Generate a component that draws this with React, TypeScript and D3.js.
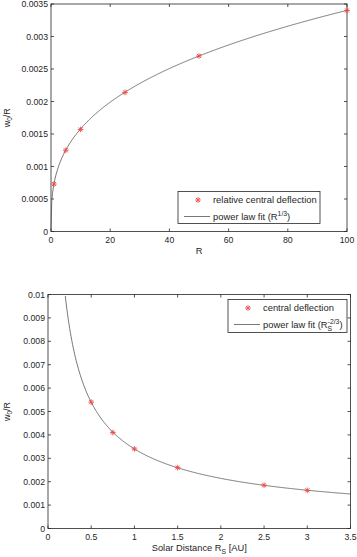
import React from "react";
import * as d3 from "d3";

const rValues = [1, 5, 10, 25, 50, 100];
const deflection1 = [0.00073, 0.00125, 0.00157, 0.00214, 0.0027, 0.0034];
const fit1Coef = 0.000733;
const fit1Exp = 1 / 3;
const xTicks1 = [0, 20, 40, 60, 80, 100];
const yTicks1 = [0, 0.0005, 0.001, 0.0015, 0.002, 0.0025, 0.003, 0.0035];

const rsValues = [0.5, 0.75, 1, 1.5, 2.5, 3];
const deflection2 = [0.0054, 0.0041, 0.0034, 0.0026, 0.00185, 0.00163];
const fit2Coef = 0.0034;
const fit2Exp = -2 / 3;
const xTicks2 = [0, 0.5, 1, 1.5, 2, 2.5, 3, 3.5];
const yTicks2 = [0, 0.001, 0.002, 0.003, 0.004, 0.005, 0.006, 0.007, 0.008, 0.009, 0.01];

const FONT = "'Liberation Sans', Arial, sans-serif";
const TXT = "#262626";
const AX = "#262626";

function Star({ x, y }: { x: number; y: number }) {
  const s = 2.8;
  const d = s * 0.72;
  return (
    <g stroke="#f03c3c" strokeWidth={1} opacity={0.85}>
      <line x1={x - s} y1={y} x2={x + s} y2={y} />
      <line x1={x} y1={y - s} x2={x} y2={y + s} />
      <line x1={x - d} y1={y - d} x2={x + d} y2={y + d} />
      <line x1={x - d} y1={y + d} x2={x + d} y2={y - d} />
    </g>
  );
}

function Panel(props: {
  left: number; right: number; top: number; bottom: number;
  xDomain: [number, number]; yDomain: [number, number];
  xTicks: number[]; yTicks: number[];
  xs: number[]; ys: number[];
  fitCoef: number; fitExp: number; fitStart: number;
  xLabel: React.ReactNode; xLabelY: number;
  legend: { x: number; y: number; w: number; h: number; label1: string; label2: React.ReactNode };
  yFmt: (v: number) => string; xFmt: (v: number) => string;
}) {
  const p = props;
  const x = d3.scaleLinear().domain(p.xDomain).range([p.left, p.right]);
  const y = d3.scaleLinear().domain(p.yDomain).range([p.bottom, p.top]);
  const n = 400;
  const pts: [number, number][] = [];
  for (let i = 0; i <= n; i++) {
    const xv = p.fitStart + (p.xDomain[1] - p.fitStart) * (i / n);
    const yv = p.fitCoef * Math.pow(xv, p.fitExp);
    pts.push([xv, yv]);
  }
  const clipped = pts.filter((d) => d[1] <= p.yDomain[1] + 1e-12);
  const line = d3.line<[number, number]>().x((d) => x(d[0])).y((d) => y(d[1]));
  const tl = 3;
  const lg = p.legend;
  const midY = (p.top + p.bottom) / 2;
  return (
    <g>
      <rect x={p.left} y={p.top} width={p.right - p.left} height={p.bottom - p.top} fill="white" stroke={AX} strokeWidth={0.8} />
      {p.xTicks.map((t) => (
        <g key={"xt" + t}>
          <line x1={x(t)} x2={x(t)} y1={p.bottom} y2={p.bottom - tl} stroke={AX} strokeWidth={0.8} />
          <line x1={x(t)} x2={x(t)} y1={p.top} y2={p.top + tl} stroke={AX} strokeWidth={0.8} />
          <text x={x(t)} y={p.bottom + 11.5} textAnchor="middle" fontSize={8.7} fill={TXT} fontFamily={FONT}>{p.xFmt(t)}</text>
        </g>
      ))}
      {p.yTicks.map((t) => (
        <g key={"yt" + t}>
          <line x1={p.left} x2={p.left + tl} y1={y(t)} y2={y(t)} stroke={AX} strokeWidth={0.8} />
          <line x1={p.right} x2={p.right - tl} y1={y(t)} y2={y(t)} stroke={AX} strokeWidth={0.8} />
          <text x={p.left - 3} y={y(t) + 3} textAnchor="end" fontSize={8.7} fill={TXT} fontFamily={FONT}>{p.yFmt(t)}</text>
        </g>
      ))}
      <path d={line(clipped) || ""} fill="none" stroke="#555" strokeWidth={0.8} />
      {p.xs.map((xv, i) => <Star key={i} x={x(xv)} y={y(p.ys[i])} />)}
      <text transform={`translate(10,${midY}) rotate(-90)`} textAnchor="middle" fontSize={9} fill={TXT} fontFamily={FONT}>
        w<tspan dy={2} fontSize={6.5}>0</tspan><tspan dy={-2}>/R</tspan>
      </text>
      <text x={(p.left + p.right) / 2} y={p.xLabelY} textAnchor="middle" fontSize={9.3} fill={TXT} fontFamily={FONT}>{p.xLabel}</text>
      <rect x={lg.x} y={lg.y} width={lg.w} height={lg.h} fill="white" stroke={AX} strokeWidth={0.8} />
      <Star x={lg.x + 20} y={lg.y + 8.5} />
      <text x={lg.x + 35} y={lg.y + 11.5} fontSize={9.4} fill={TXT} fontFamily={FONT}>{p.legend.label1}</text>
      <line x1={lg.x + 6} x2={lg.x + 32} y1={lg.y + 25} y2={lg.y + 25} stroke="#555" strokeWidth={0.8} />
      <text x={lg.x + 35} y={lg.y + 28} fontSize={9.4} fill={TXT} fontFamily={FONT}>{p.legend.label2}</text>
    </g>
  );
}

export default function App() {
  const fmtY = (v: number) => (v === 0 ? "0" : String(+v.toFixed(4)));
  const fmtX = (v: number) => String(v);
  return (
    <svg width={357} height={557} style={{ position: "absolute", left: 0, top: 0, background: "white" }}>
      <Panel
        left={51} right={347} top={4} bottom={231.5}
        xDomain={[0, 100]} yDomain={[0, 0.0035]}
        xTicks={xTicks1} yTicks={yTicks1}
        xs={rValues} ys={deflection1}
        fitCoef={fit1Coef} fitExp={fit1Exp} fitStart={0}
        xLabel="R" xLabelY={254}
        legend={{ x: 178, y: 191.5, w: 142, h: 32, label1: "relative central deflection",
          label2: <>power law fit (R<tspan dy={-3.5} fontSize={6.8}>1/3</tspan><tspan dy={3.5}>)</tspan></> }}
        yFmt={fmtY} xFmt={fmtX}
      />
      <Panel
        left={48} right={350.5} top={294.5} bottom={528.5}
        xDomain={[0, 3.5]} yDomain={[0, 0.01]}
        xTicks={xTicks2} yTicks={yTicks2}
        xs={rsValues} ys={deflection2}
        fitCoef={fit2Coef} fitExp={fit2Exp} fitStart={0.15}
        xLabel={<>Solar Distance R<tspan dy={2.5} fontSize={6.8}>S</tspan><tspan dy={-2.5}> [AU]</tspan></>} xLabelY={551}
        legend={{ x: 228, y: 299.5, w: 119, h: 33, label1: "central deflection",
          label2: <>power law fit (R<tspan dy={3} fontSize={6.8}>S</tspan><tspan dy={-6.5} dx={-4.5} fontSize={6.8}>-2/3</tspan><tspan dy={3.5}>)</tspan></> }}
        yFmt={fmtY} xFmt={fmtX}
      />
    </svg>
  );
}
